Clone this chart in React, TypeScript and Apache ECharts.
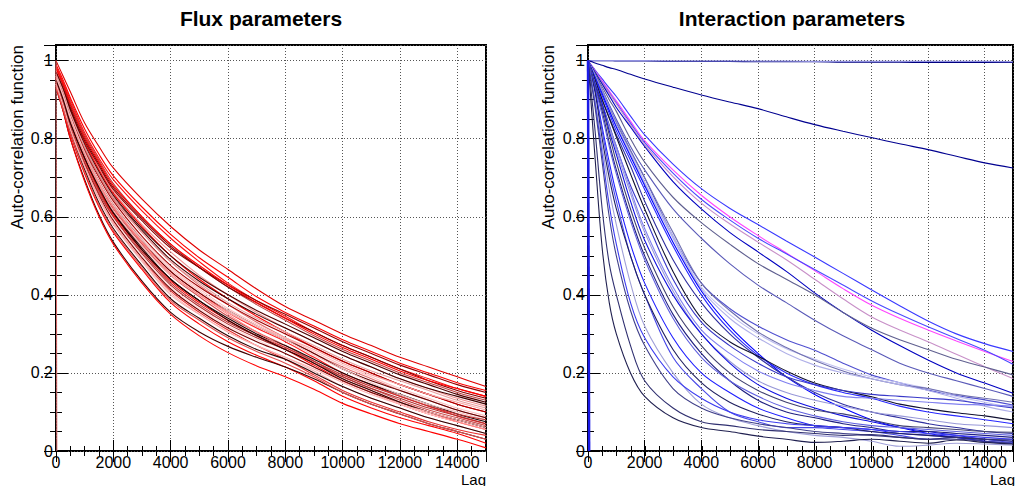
import React, { useEffect, useRef } from 'react';
import * as echarts from 'echarts';

const FONT = '"Liberation Sans", Arial, Helvetica, sans-serif';

// ---------- Left panel: Flux parameters ----------
const FLUX_LAGS = [0, 250, 500, 1000, 1500, 2000, 3000, 4000, 5000, 6000, 7000, 8000, 9000, 10000, 11000, 12000, 13000, 14000, 15000];

const flux01 = [1.0, 0.96, 0.92, 0.84, 0.78, 0.725, 0.645, 0.575, 0.515, 0.465, 0.415, 0.37, 0.335, 0.30, 0.27, 0.24, 0.215, 0.19, 0.165];
const flux02 = [0.99, 0.95, 0.905, 0.825, 0.76, 0.705, 0.625, 0.555, 0.495, 0.445, 0.395, 0.355, 0.32, 0.285, 0.255, 0.225, 0.2, 0.175, 0.155];
const flux03 = [0.985, 0.945, 0.9, 0.815, 0.75, 0.695, 0.615, 0.545, 0.485, 0.43, 0.385, 0.345, 0.305, 0.27, 0.24, 0.21, 0.185, 0.16, 0.14];
const flux04 = [0.98, 0.94, 0.895, 0.81, 0.745, 0.685, 0.6, 0.53, 0.47, 0.42, 0.375, 0.335, 0.295, 0.26, 0.23, 0.2, 0.175, 0.15, 0.13];
const flux05 = [0.975, 0.935, 0.885, 0.8, 0.735, 0.675, 0.595, 0.525, 0.47, 0.42, 0.38, 0.34, 0.305, 0.27, 0.24, 0.21, 0.18, 0.155, 0.135];
const flux06 = [0.975, 0.93, 0.88, 0.795, 0.725, 0.665, 0.58, 0.51, 0.45, 0.4, 0.355, 0.315, 0.28, 0.245, 0.215, 0.185, 0.16, 0.135, 0.115];
const flux07 = [0.97, 0.925, 0.875, 0.79, 0.72, 0.66, 0.575, 0.5, 0.44, 0.39, 0.345, 0.305, 0.265, 0.23, 0.2, 0.17, 0.145, 0.12, 0.1];
const flux08 = [0.965, 0.92, 0.87, 0.78, 0.71, 0.65, 0.565, 0.49, 0.435, 0.39, 0.35, 0.315, 0.28, 0.245, 0.215, 0.185, 0.16, 0.14, 0.12];
const flux09 = [0.965, 0.92, 0.865, 0.775, 0.705, 0.645, 0.56, 0.485, 0.425, 0.375, 0.33, 0.29, 0.25, 0.215, 0.185, 0.155, 0.13, 0.105, 0.085];
const flux10 = [0.96, 0.915, 0.86, 0.77, 0.7, 0.64, 0.55, 0.475, 0.42, 0.375, 0.335, 0.3, 0.265, 0.23, 0.2, 0.17, 0.145, 0.12, 0.1];
const flux11 = [0.96, 0.91, 0.855, 0.765, 0.695, 0.635, 0.545, 0.47, 0.415, 0.365, 0.325, 0.29, 0.255, 0.22, 0.19, 0.16, 0.135, 0.11, 0.09];
const flux12 = [0.955, 0.905, 0.85, 0.76, 0.69, 0.625, 0.535, 0.46, 0.405, 0.355, 0.315, 0.28, 0.24, 0.2, 0.17, 0.14, 0.115, 0.09, 0.07];
const flux13 = [0.955, 0.905, 0.85, 0.765, 0.69, 0.63, 0.54, 0.46, 0.405, 0.36, 0.32, 0.285, 0.25, 0.21, 0.18, 0.155, 0.13, 0.105, 0.085];
const flux14 = [0.95, 0.9, 0.845, 0.755, 0.68, 0.62, 0.53, 0.45, 0.395, 0.345, 0.305, 0.27, 0.23, 0.19, 0.16, 0.13, 0.105, 0.085, 0.065];
const flux15 = [0.95, 0.9, 0.845, 0.755, 0.68, 0.615, 0.525, 0.45, 0.4, 0.355, 0.32, 0.29, 0.26, 0.225, 0.195, 0.17, 0.145, 0.125, 0.105];
const flux16 = [0.95, 0.895, 0.84, 0.75, 0.67, 0.61, 0.52, 0.44, 0.385, 0.34, 0.3, 0.27, 0.235, 0.2, 0.17, 0.145, 0.12, 0.095, 0.075];
const flux17 = [0.945, 0.895, 0.835, 0.745, 0.67, 0.605, 0.515, 0.435, 0.38, 0.335, 0.295, 0.26, 0.22, 0.18, 0.15, 0.12, 0.095, 0.075, 0.055];
const flux18 = [0.945, 0.89, 0.835, 0.74, 0.665, 0.6, 0.505, 0.425, 0.37, 0.325, 0.29, 0.26, 0.225, 0.19, 0.16, 0.135, 0.11, 0.09, 0.07];
const flux19 = [0.945, 0.89, 0.83, 0.74, 0.66, 0.595, 0.5, 0.42, 0.365, 0.32, 0.285, 0.25, 0.215, 0.18, 0.15, 0.12, 0.095, 0.075, 0.055];
const flux20 = [0.94, 0.885, 0.825, 0.735, 0.655, 0.59, 0.495, 0.415, 0.36, 0.315, 0.28, 0.25, 0.215, 0.18, 0.15, 0.125, 0.1, 0.08, 0.06];
const flux21 = [0.94, 0.885, 0.825, 0.73, 0.65, 0.585, 0.49, 0.41, 0.355, 0.31, 0.27, 0.235, 0.195, 0.155, 0.125, 0.1, 0.075, 0.055, 0.04];
const flux22 = [0.94, 0.88, 0.82, 0.725, 0.645, 0.58, 0.485, 0.4, 0.35, 0.305, 0.27, 0.24, 0.205, 0.165, 0.135, 0.11, 0.085, 0.065, 0.045];
const flux23 = [0.935, 0.88, 0.815, 0.72, 0.635, 0.57, 0.475, 0.39, 0.34, 0.295, 0.26, 0.235, 0.2, 0.165, 0.135, 0.11, 0.085, 0.065, 0.045];
const flux24 = [0.935, 0.875, 0.81, 0.71, 0.625, 0.56, 0.465, 0.38, 0.325, 0.28, 0.245, 0.215, 0.18, 0.14, 0.11, 0.085, 0.065, 0.045, 0.02];
const flux25 = [0.93, 0.87, 0.8, 0.695, 0.605, 0.535, 0.435, 0.355, 0.305, 0.268, 0.24, 0.215, 0.185, 0.15, 0.12, 0.095, 0.07, 0.05, 0.03];
const flux26 = [0.93, 0.87, 0.8, 0.69, 0.6, 0.53, 0.43, 0.35, 0.295, 0.252, 0.218, 0.19, 0.158, 0.122, 0.095, 0.07, 0.05, 0.03, 0.008];
const flux27 = [0.97, 0.93, 0.88, 0.795, 0.73, 0.67, 0.59, 0.52, 0.47, 0.425, 0.385, 0.35, 0.315, 0.28, 0.25, 0.22, 0.195, 0.17, 0.15];
const flux28 = [0.935, 0.875, 0.815, 0.715, 0.63, 0.565, 0.47, 0.385, 0.335, 0.29, 0.255, 0.225, 0.19, 0.15, 0.12, 0.095, 0.07, 0.05, 0.03];
const flux29 = [0.955, 0.905, 0.85, 0.76, 0.685, 0.625, 0.535, 0.455, 0.4, 0.35, 0.305, 0.265, 0.225, 0.185, 0.155, 0.125, 0.1, 0.075, 0.055];
const flux30 = [0.97, 0.925, 0.875, 0.785, 0.715, 0.655, 0.57, 0.5, 0.445, 0.4, 0.36, 0.325, 0.29, 0.255, 0.225, 0.195, 0.17, 0.145, 0.125];
const flux31 = [0.98, 0.94, 0.89, 0.805, 0.74, 0.68, 0.6, 0.53, 0.475, 0.425, 0.38, 0.34, 0.3, 0.265, 0.235, 0.205, 0.18, 0.16, 0.14];
const flux32 = [0.96, 0.91, 0.855, 0.765, 0.69, 0.63, 0.54, 0.465, 0.41, 0.36, 0.32, 0.285, 0.245, 0.21, 0.175, 0.145, 0.12, 0.1, 0.08];
const flux33 = [0.945, 0.89, 0.83, 0.74, 0.66, 0.6, 0.51, 0.43, 0.375, 0.33, 0.295, 0.265, 0.23, 0.195, 0.165, 0.14, 0.115, 0.095, 0.08];
const flux34 = [0.965, 0.92, 0.865, 0.78, 0.71, 0.65, 0.56, 0.485, 0.43, 0.38, 0.34, 0.305, 0.27, 0.235, 0.205, 0.18, 0.155, 0.13, 0.11];
const flux35 = [0.95, 0.9, 0.84, 0.75, 0.675, 0.61, 0.515, 0.44, 0.385, 0.335, 0.295, 0.26, 0.225, 0.185, 0.155, 0.125, 0.1, 0.08, 0.06];
const flux36 = [0.94, 0.885, 0.825, 0.73, 0.65, 0.585, 0.49, 0.405, 0.35, 0.305, 0.27, 0.24, 0.21, 0.175, 0.145, 0.12, 0.1, 0.08, 0.06];

const FLUX_CURVES = [flux01, flux02, flux03, flux04, flux05, flux06, flux07, flux08, flux09, flux10,
  flux11, flux12, flux13, flux14, flux15, flux16, flux17, flux18, flux19, flux20,
  flux21, flux22, flux23, flux24, flux25, flux26, flux27, flux28, flux29, flux30,
  flux31, flux32, flux33, flux34, flux35, flux36];
const FLUX_COLORS = ['#e00000', '#ff0000', '#ff1010', '#c04040', '#800000', '#f09090', '#ff0000', '#400000', '#e07070', '#a00000',
  '#ffc0c0', '#ff2020', '#600000', '#d05050', '#f8a8a8', '#200000', '#ff0000', '#b03030', '#ffd8d8', '#700000',
  '#e83030', '#f0b8b8', '#300000', '#ff0000', '#400000', '#ff0000', '#900000', '#e05050', '#ff8080', '#500000',
  '#ff0000', '#f4c4c4', '#c03030', '#e8a0a0', '#300000', '#ffb0b0'];
// curve that falls from 1 to 0 within the first bin
const FLUX_DROP_LAGS = [0, 30];
const FLUX_DROP_VALUES = [1, 0];

// ---------- Right panel: Interaction parameters ----------
const INTER_LAGS = [0, 100, 250, 500, 750, 1000, 1500, 2000, 3000, 4000, 5000, 6000, 7000, 8000, 9000, 10000, 11000, 12000, 13000, 14000, 15000];

const inter01 = [1, 1, 1, 1, 1, 0.999, 0.999, 0.999, 0.998, 0.998, 0.998, 0.997, 0.997, 0.997, 0.996, 0.996, 0.996, 0.995, 0.995, 0.995, 0.995];
const inter02 = [1, 1, 1, 1, 1, 1, 1, 1, 0.999, 0.999, 0.999, 0.999, 0.999, 0.998, 0.998, 0.998, 0.998, 0.998, 0.998, 0.998, 0.997];
const inter03 = [1, 0.998, 0.994, 0.988, 0.982, 0.977, 0.965, 0.953, 0.932, 0.912, 0.894, 0.877, 0.856, 0.836, 0.819, 0.803, 0.787, 0.772, 0.755, 0.738, 0.725];
const inter04 = [1, 0.99, 0.976, 0.953, 0.93, 0.908, 0.858, 0.81, 0.735, 0.672, 0.622, 0.58, 0.538, 0.497, 0.455, 0.413, 0.372, 0.333, 0.3, 0.275, 0.255];
const inter05 = [1, 0.99, 0.974, 0.948, 0.922, 0.897, 0.845, 0.795, 0.72, 0.655, 0.6, 0.552, 0.507, 0.462, 0.416, 0.374, 0.34, 0.31, 0.282, 0.255, 0.229];
const inter06 = [1, 0.989, 0.972, 0.945, 0.918, 0.892, 0.84, 0.79, 0.712, 0.645, 0.592, 0.545, 0.505, 0.465, 0.425, 0.385, 0.35, 0.318, 0.288, 0.258, 0.222];
const inter07 = [1, 0.989, 0.972, 0.944, 0.916, 0.889, 0.835, 0.785, 0.703, 0.635, 0.582, 0.535, 0.49, 0.44, 0.39, 0.344, 0.31, 0.28, 0.248, 0.216, 0.186];
const inter08 = [1, 0.988, 0.97, 0.94, 0.91, 0.88, 0.83, 0.78, 0.69, 0.62, 0.56, 0.51, 0.46, 0.405, 0.355, 0.31, 0.27, 0.233, 0.2, 0.174, 0.148];
const inter09 = [1, 0.987, 0.967, 0.933, 0.9, 0.87, 0.8, 0.74, 0.65, 0.585, 0.53, 0.48, 0.44, 0.4, 0.355, 0.315, 0.285, 0.26, 0.235, 0.215, 0.195];
const inter10 = [1, 0.985, 0.962, 0.925, 0.887, 0.85, 0.78, 0.72, 0.62, 0.545, 0.48, 0.425, 0.38, 0.335, 0.295, 0.26, 0.225, 0.2, 0.18, 0.16, 0.14];
const inter11 = [1, 0.985, 0.963, 0.925, 0.885, 0.845, 0.77, 0.7, 0.55, 0.43, 0.365, 0.32, 0.285, 0.258, 0.225, 0.195, 0.175, 0.156, 0.142, 0.131, 0.118];
const inter12 = [1, 0.985, 0.962, 0.922, 0.882, 0.842, 0.765, 0.69, 0.55, 0.42, 0.35, 0.3, 0.262, 0.235, 0.21, 0.19, 0.175, 0.16, 0.14, 0.125, 0.11];
const inter13 = [1, 0.984, 0.96, 0.92, 0.88, 0.84, 0.77, 0.7, 0.56, 0.43, 0.36, 0.305, 0.265, 0.232, 0.205, 0.185, 0.17, 0.16, 0.145, 0.135, 0.125];
const inter14 = [1, 0.984, 0.96, 0.918, 0.876, 0.835, 0.76, 0.685, 0.545, 0.415, 0.34, 0.29, 0.25, 0.22, 0.2, 0.185, 0.17, 0.155, 0.135, 0.115, 0.1];
const inter15 = [1, 0.983, 0.958, 0.915, 0.872, 0.83, 0.755, 0.68, 0.535, 0.41, 0.32, 0.25, 0.19, 0.145, 0.11, 0.08, 0.06, 0.045, 0.035, 0.025, 0.02];
const inter16 = [1, 0.982, 0.955, 0.91, 0.865, 0.82, 0.745, 0.67, 0.525, 0.4, 0.31, 0.245, 0.2, 0.17, 0.15, 0.135, 0.115, 0.1, 0.09, 0.08, 0.07];
const inter17 = [1, 0.98, 0.952, 0.9, 0.855, 0.81, 0.73, 0.64, 0.49, 0.38, 0.3, 0.24, 0.19, 0.15, 0.12, 0.1, 0.085, 0.07, 0.06, 0.05, 0.045];
const inter18 = [1, 0.98, 0.95, 0.9, 0.852, 0.805, 0.71, 0.62, 0.46, 0.34, 0.28, 0.243, 0.205, 0.174, 0.155, 0.139, 0.12, 0.108, 0.098, 0.09, 0.079];
const inter19 = [1, 0.978, 0.945, 0.89, 0.835, 0.78, 0.68, 0.6, 0.44, 0.33, 0.27, 0.225, 0.19, 0.17, 0.155, 0.145, 0.14, 0.135, 0.13, 0.12, 0.11];
const inter20 = [1, 0.976, 0.94, 0.88, 0.83, 0.78, 0.67, 0.57, 0.42, 0.31, 0.25, 0.205, 0.175, 0.155, 0.14, 0.135, 0.13, 0.125, 0.12, 0.118, 0.115];
const inter21 = [1, 0.975, 0.94, 0.885, 0.83, 0.77, 0.66, 0.56, 0.41, 0.3, 0.23, 0.18, 0.15, 0.13, 0.115, 0.1, 0.09, 0.08, 0.07, 0.065, 0.06];
const inter22 = [1, 0.975, 0.94, 0.89, 0.82, 0.76, 0.64, 0.54, 0.4, 0.3, 0.225, 0.17, 0.135, 0.11, 0.09, 0.075, 0.06, 0.05, 0.04, 0.03, 0.025];
const inter23 = [1, 0.974, 0.938, 0.88, 0.81, 0.74, 0.62, 0.52, 0.37, 0.27, 0.2, 0.155, 0.125, 0.105, 0.095, 0.08, 0.065, 0.06, 0.055, 0.05, 0.048];
const inter24 = [1, 0.972, 0.932, 0.87, 0.79, 0.72, 0.6, 0.5, 0.35, 0.25, 0.18, 0.13, 0.1, 0.085, 0.07, 0.06, 0.05, 0.05, 0.045, 0.04, 0.035];
const inter25 = [1, 0.97, 0.93, 0.86, 0.78, 0.71, 0.59, 0.49, 0.34, 0.24, 0.18, 0.14, 0.11, 0.09, 0.075, 0.065, 0.06, 0.055, 0.05, 0.045, 0.04];
const inter26 = [1, 0.968, 0.925, 0.83, 0.74, 0.66, 0.53, 0.43, 0.29, 0.2, 0.15, 0.11, 0.085, 0.065, 0.06, 0.055, 0.045, 0.04, 0.035, 0.025, 0.02];
const inter27 = [1, 0.965, 0.92, 0.82, 0.72, 0.64, 0.5, 0.4, 0.24, 0.16, 0.1, 0.075, 0.06, 0.06, 0.055, 0.05, 0.04, 0.03, 0.035, 0.03, 0.02];
const inter28 = [1, 0.965, 0.92, 0.8, 0.7, 0.62, 0.5, 0.4, 0.26, 0.175, 0.125, 0.095, 0.075, 0.065, 0.06, 0.05, 0.045, 0.04, 0.035, 0.03, 0.03];
const inter29 = [1, 0.96, 0.9, 0.78, 0.67, 0.58, 0.43, 0.32, 0.2, 0.12, 0.085, 0.065, 0.05, 0.04, 0.035, 0.025, 0.012, 0.015, 0.02, 0.018, 0.015];
const inter30 = [1, 0.955, 0.89, 0.76, 0.63, 0.53, 0.38, 0.29, 0.19, 0.135, 0.1, 0.08, 0.07, 0.065, 0.06, 0.055, 0.05, 0.045, 0.04, 0.035, 0.03];
const inter31 = [1, 0.95, 0.88, 0.74, 0.6, 0.5, 0.36, 0.27, 0.16, 0.11, 0.085, 0.07, 0.06, 0.05, 0.045, 0.04, 0.035, 0.03, 0.03, 0.025, 0.02];
const inter32 = [1, 0.93, 0.82, 0.62, 0.48, 0.4, 0.27, 0.18, 0.11, 0.075, 0.065, 0.055, 0.05, 0.045, 0.04, 0.042, 0.035, 0.03, 0.035, 0.03, 0.025];
const inter33 = [1, 0.9, 0.75, 0.52, 0.38, 0.3, 0.2, 0.14, 0.085, 0.06, 0.05, 0.038, 0.03, 0.022, 0.025, 0.03, 0.025, 0.02, 0.028, 0.022, 0.018];

const INTER_CURVES = [inter01, inter02, inter03, inter04, inter05, inter06, inter07, inter08, inter09, inter10,
  inter11, inter12, inter13, inter14, inter15, inter16, inter17, inter18, inter19, inter20,
  inter21, inter22, inter23, inter24, inter25, inter26, inter27, inter28, inter29, inter30,
  inter31, inter32, inter33];
const INTER_COLORS = ['#000080', '#9090e0', '#000090', '#3a3aff', '#ff44ff', '#4a4aff', '#c890c8', '#0000c0', '#606090', '#5a5ab8',
  '#5050d0', '#c0c0f0', '#7070b0', '#b0b0e8', '#0000ff', '#2828ff', '#3030a0', '#101030', '#3838c8', '#8080f0',
  '#9898d8', '#1010e0', '#404070', '#202080', '#6060e0', '#2020ff', '#4848e8', '#202060', '#a0a0d8', '#3c3cf0',
  '#40408a', '#303070', '#202050'];
const INTER_DROP_LAGS = [0, 40];
const INTER_DROP_VALUES = [1, 0];

// ---------- Axis ticks ----------
const X_MAJOR = 2000;
const X_MINOR = 500;
const X_MAX = 15000;
const Y_MAJOR = 0.2;
const Y_MINOR = 0.05;
const Y_MAX = 1.04;

function pairs(lags: number[], vals: number[]) {
  const out: number[][] = [];
  for (let i = 0; i < lags.length; i++) {
    if (vals[i] !== undefined) out.push([lags[i], vals[i]]);
  }
  return out;
}

const GRID_RECTS = [
  { left: 56, right: 530, top: 45, bottom: 35 },
  { left: 588, right: -2, top: 45, bottom: 35 },
];

export default function App() {
  const ref = useRef<HTMLDivElement>(null);

  useEffect(() => {
    if (!ref.current) return;
    const chart = echarts.init(ref.current, null, { renderer: 'svg' });

    const grids: any[] = [];
    const xAxes: any[] = [];
    const yAxes: any[] = [];
    const series: any[] = [];

    const tickStyle = { color: '#000', width: 1 };
    const xFmt = (v: number) => (Math.abs(v / X_MAJOR - Math.round(v / X_MAJOR)) < 1e-6 ? String(v) : '');
    const yFmt = (v: number) => (Math.abs(v / Y_MAJOR - Math.round(v / Y_MAJOR)) < 1e-6 ? String(Math.round(v * 10) / 10) : '');

    GRID_RECTS.forEach((r, p) => {
      const gMain = grids.length;
      grids.push({ ...r, show: true, borderColor: '#000', borderWidth: 2, backgroundColor: 'transparent', containLabel: false });
      const gMinor = grids.length;
      grids.push({ ...r, show: false, containLabel: false });

      const xMainIdx = xAxes.length;
      xAxes.push({
        type: 'value', gridIndex: gMain, position: 'bottom', min: 0, max: X_MAX, interval: X_MAJOR,
        axisLine: { show: false },
        axisTick: { show: true, inside: true, length: 11, lineStyle: tickStyle },
        axisLabel: { show: true, formatter: xFmt, fontSize: 16, color: '#000', fontFamily: FONT, margin: 3 },
        splitLine: { show: true, lineStyle: { color: '#555', width: 1, type: [1, 2] } },
      });
      xAxes.push({
        type: 'value', gridIndex: gMain, position: 'top', min: 0, max: X_MAX, interval: X_MAJOR,
        axisLine: { show: false },
        axisTick: { show: true, inside: true, length: 11, lineStyle: tickStyle },
        axisLabel: { show: false }, splitLine: { show: false },
      });
      xAxes.push({
        type: 'value', gridIndex: gMinor, position: 'bottom', min: 0, max: X_MAX, interval: X_MINOR,
        axisLine: { show: false },
        axisTick: { show: true, inside: true, length: 5, lineStyle: tickStyle },
        axisLabel: { show: false }, splitLine: { show: false },
      });
      xAxes.push({
        type: 'value', gridIndex: gMinor, position: 'top', min: 0, max: X_MAX, interval: X_MINOR,
        axisLine: { show: false },
        axisTick: { show: true, inside: true, length: 5, lineStyle: tickStyle },
        axisLabel: { show: false }, splitLine: { show: false },
      });

      const yMainIdx = yAxes.length;
      yAxes.push({
        type: 'value', gridIndex: gMain, position: 'left', min: 0, max: Y_MAX, interval: Y_MAJOR,
        axisLine: { show: false },
        axisTick: { show: true, inside: true, length: 12, lineStyle: tickStyle },
        axisLabel: { show: true, formatter: yFmt, fontSize: 16, color: '#000', fontFamily: FONT, margin: 3 },
        splitLine: { show: true, lineStyle: { color: '#555', width: 1, type: [1, 2] } },
      });
      yAxes.push({
        type: 'value', gridIndex: gMain, position: 'right', min: 0, max: Y_MAX, interval: Y_MAJOR,
        axisLine: { show: false },
        axisTick: { show: true, inside: true, length: 12, lineStyle: tickStyle },
        axisLabel: { show: false }, splitLine: { show: false },
      });
      yAxes.push({
        type: 'value', gridIndex: gMinor, position: 'left', min: 0, max: Y_MAX, interval: Y_MINOR,
        axisLine: { show: false },
        axisTick: { show: true, inside: true, length: 6, lineStyle: tickStyle },
        axisLabel: { show: false }, splitLine: { show: false },
      });
      yAxes.push({
        type: 'value', gridIndex: gMinor, position: 'right', min: 0, max: Y_MAX, interval: Y_MINOR,
        axisLine: { show: false },
        axisTick: { show: true, inside: true, length: 6, lineStyle: tickStyle },
        axisLabel: { show: false }, splitLine: { show: false },
      });

      const curves = p === 0 ? FLUX_CURVES : INTER_CURVES;
      const colors = p === 0 ? FLUX_COLORS : INTER_COLORS;
      const lags = p === 0 ? FLUX_LAGS : INTER_LAGS;

      series.push({
        type: 'line', xAxisIndex: xMainIdx, yAxisIndex: yMainIdx, silent: true, showSymbol: false,
        data: pairs(p === 0 ? FLUX_DROP_LAGS : INTER_DROP_LAGS, p === 0 ? FLUX_DROP_VALUES : INTER_DROP_VALUES),
        lineStyle: { color: p === 0 ? '#e07070' : '#1a1ae6', width: p === 0 ? 1 : 2.5 },
        z: 3,
      });

      curves.forEach((vals, i) => {
        series.push({
          type: 'line', xAxisIndex: xMainIdx, yAxisIndex: yMainIdx, silent: true,
          showSymbol: false, smooth: 0.35,
          data: pairs(lags, vals),
          lineStyle: { color: colors[i % colors.length], width: 1.1 },
          z: 2,
        });
      });
    });

    const graphic: any[] = [
      { type: 'text', x: 261, y: 18, style: { text: 'Flux parameters', font: `bold 21px ${FONT}`, fill: '#000', textAlign: 'center', textVerticalAlign: 'middle' } },
      { type: 'text', x: 792, y: 18, style: { text: 'Interaction parameters', font: `bold 21px ${FONT}`, fill: '#000', textAlign: 'center', textVerticalAlign: 'middle' } },
      { type: 'text', x: 17, y: 45, rotation: Math.PI / 2, style: { text: 'Auto-correlation function', font: `17px ${FONT}`, fill: '#000', textAlign: 'right', textVerticalAlign: 'middle' } },
      { type: 'text', x: 548, y: 45, rotation: Math.PI / 2, style: { text: 'Auto-correlation function', font: `17px ${FONT}`, fill: '#000', textAlign: 'right', textVerticalAlign: 'middle' } },
      { type: 'text', x: 486, y: 479, style: { text: 'Lag', font: `15px ${FONT}`, fill: '#000', textAlign: 'right', textVerticalAlign: 'middle' } },
      { type: 'text', x: 1015, y: 479, style: { text: 'Lag', font: `15px ${FONT}`, fill: '#000', textAlign: 'right', textVerticalAlign: 'middle' } },
    ];

    chart.setOption({
      animation: false,
      backgroundColor: '#fff',
      grid: grids,
      xAxis: xAxes,
      yAxis: yAxes,
      series,
      graphic,
    });

    return () => chart.dispose();
  }, []);

  return (
    <div
      ref={ref}
      style={{ position: 'fixed', left: 0, top: 0, width: 1016, height: 486, background: '#fff' }}
    />
  );
}
